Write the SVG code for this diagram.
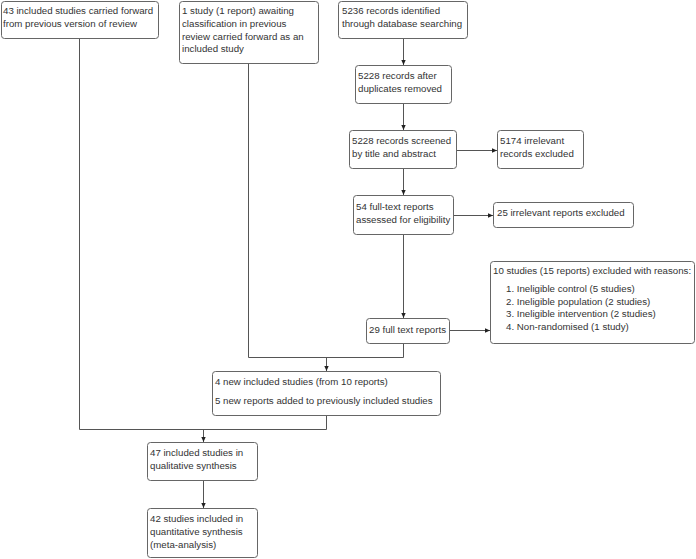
<svg xmlns="http://www.w3.org/2000/svg" width="696" height="559" viewBox="0 0 696 559">
<style>
.box{fill:#fff;stroke:#666;stroke-width:1}
.ln{fill:none;stroke:#555;stroke-width:1}
text{font-family:"Liberation Sans",Arial,sans-serif;font-size:9.7px;fill:#333}
</style>
<defs>
<marker id="arr" markerUnits="userSpaceOnUse" markerWidth="6" markerHeight="6" refX="5" refY="2.5" orient="auto">
<path d="M0,0.3 L5,2.5 L0,4.7 z" fill="#222"/>
</marker>
</defs>
<rect width="696" height="559" fill="#fff"/>
<g id="connectors">
<path class="ln" d="M403.5,38.5 V65" marker-end="url(#arr)"/>
<path class="ln" d="M403.5,103.5 V130" marker-end="url(#arr)"/>
<path class="ln" d="M403.5,168.5 V195" marker-end="url(#arr)"/>
<path class="ln" d="M403.5,234.5 V318" marker-end="url(#arr)"/>
<path class="ln" d="M456.5,150.5 H497" marker-end="url(#arr)"/>
<path class="ln" d="M453.5,215.5 H493" marker-end="url(#arr)"/>
<path class="ln" d="M449.5,330.5 H490" marker-end="url(#arr)"/>
<path class="ln" d="M79.5,38.5 V429.5 H326.5 V415.5"/>
<path class="ln" d="M203.5,429.5 V442" marker-end="url(#arr)"/>
<path class="ln" d="M248.5,63.5 V357.5 H403.5 V343.5"/>
<path class="ln" d="M326.5,357.5 V371" marker-end="url(#arr)"/>
<path class="ln" d="M203.5,480.5 V508" marker-end="url(#arr)"/>
</g>
<g id="n1"><rect class="box" x="1.5" y="1.5" width="157" height="37" rx="3"/>
<text x="3" y="14">43 included studies carried forward</text>
<text x="3" y="27">from previous version of review</text></g>
<g id="n2"><rect class="box" x="179.5" y="1.5" width="139" height="62" rx="3"/>
<text x="182" y="14">1 study (1 report) awaiting</text>
<text x="182" y="27">classification in previous</text>
<text x="182" y="39.5">review carried forward as an</text>
<text x="182" y="52">included study</text></g>
<g id="n3"><rect class="box" x="338.5" y="1.5" width="129" height="37" rx="3"/>
<text x="342" y="14">5236 records identified</text>
<text x="342" y="27">through database searching</text></g>
<g id="n4"><rect class="box" x="355.5" y="65.5" width="96" height="38" rx="3"/>
<text x="358" y="79">5228 records after</text>
<text x="358" y="92">duplicates removed</text></g>
<g id="n5"><rect class="box" x="349.5" y="130.5" width="107" height="38" rx="3"/>
<text x="352" y="144">5228 records screened</text>
<text x="352" y="157">by title and abstract</text></g>
<g id="n6"><rect class="box" x="497.5" y="130.5" width="86" height="38" rx="3"/>
<text x="500" y="144">5174 irrelevant</text>
<text x="500" y="157">records excluded</text></g>
<g id="n7"><rect class="box" x="353.5" y="195.5" width="100" height="39" rx="3"/>
<text x="356" y="209.5">54 full-text reports</text>
<text x="356" y="222.5">assessed for eligibility</text></g>
<g id="n8"><rect class="box" x="493.5" y="202.5" width="140" height="25" rx="3"/>
<text x="497" y="216">25 irrelevant reports excluded</text></g>
<g id="n9"><rect class="box" x="366.5" y="318.5" width="83" height="25" rx="3"/>
<text x="369" y="333">29 full text reports</text></g>
<g id="n10"><rect class="box" x="490.5" y="261.5" width="204" height="82" rx="3"/>
<text x="493" y="273.5">10 studies (15 reports) excluded with reasons:</text>
<text x="506" y="292">1. Ineligible control (5 studies)</text>
<text x="506" y="304.5">2. Ineligible population (2 studies)</text>
<text x="506" y="317">3. Ineligible intervention (2 studies)</text>
<text x="506" y="329.5">4. Non-randomised (1 study)</text></g>
<g id="n11"><rect class="box" x="212.5" y="371.5" width="228" height="44" rx="3"/>
<text x="215" y="385">4 new included studies (from 10 reports)</text>
<text x="215" y="403.5">5 new reports added to previously included studies</text></g>
<g id="n12"><rect class="box" x="147.5" y="442.5" width="110" height="38" rx="3"/>
<text x="150" y="456">47 included studies in</text>
<text x="150" y="469">qualitative synthesis</text></g>
<g id="n13"><rect class="box" x="147.5" y="508.5" width="110" height="49" rx="3"/>
<text x="150" y="522">42 studies included in</text>
<text x="150" y="535">quantitative synthesis</text>
<text x="150" y="548">(meta-analysis)</text></g>
</svg>
